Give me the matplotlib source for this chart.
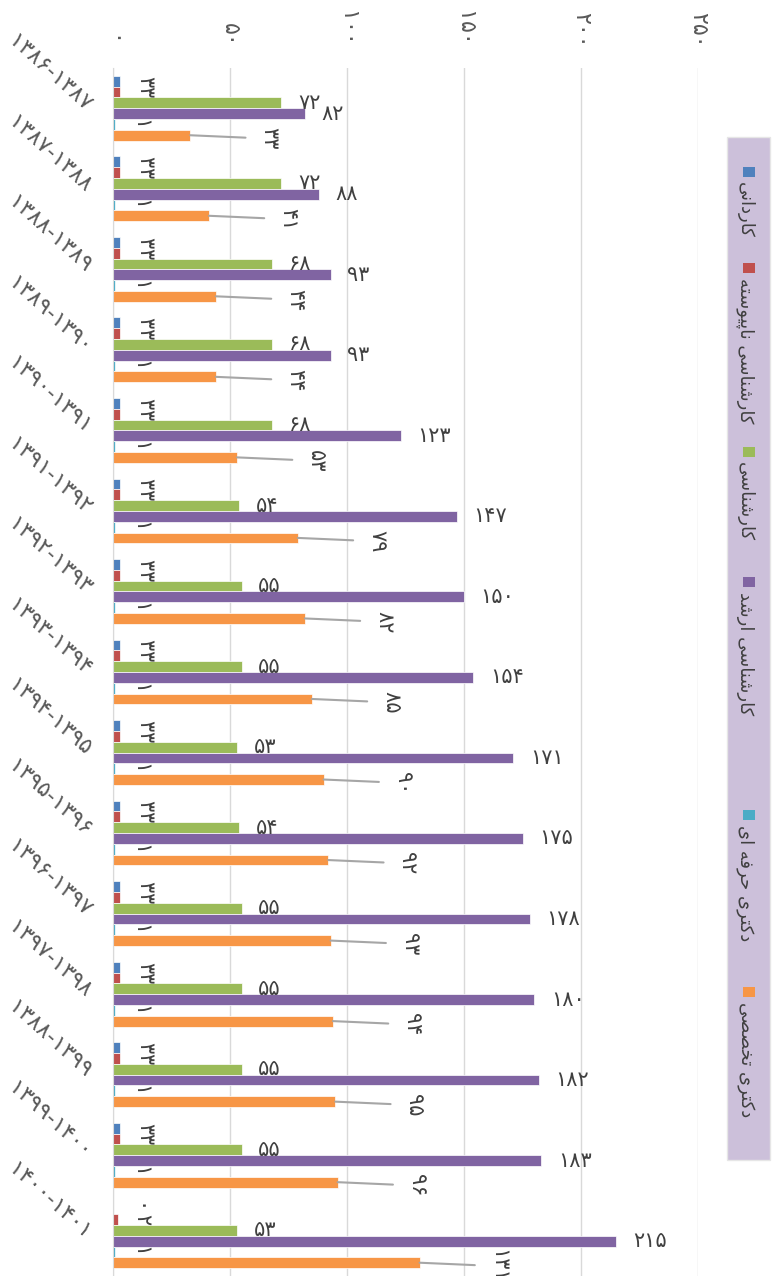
import matplotlib
matplotlib.use('Agg')
import matplotlib.pyplot as plt
from matplotlib.patches import Rectangle
import numpy as np

plt.rcParams['font.family'] = ['DejaVu Sans']

# categories (Persian years, as written on the chart)
years = ['۱۳۸۶-۱۳۸۷', '۱۳۸۷-۱۳۸۸', '۱۳۸۸-۱۳۸۹', '۱۳۸۹-۱۳۹۰', '۱۳۹۰-۱۳۹۱',
         '۱۳۹۱-۱۳۹۲', '۱۳۹۲-۱۳۹۳', '۱۳۹۳-۱۳۹۴', '۱۳۹۴-۱۳۹۵', '۱۳۹۵-۱۳۹۶',
         '۱۳۹۶-۱۳۹۷', '۱۳۹۷-۱۳۹۸', '۱۳۸۸-۱۳۹۹', '۱۳۹۹-۱۴۰۰', '۱۴۰۰-۱۴۰۱']

series_names = ['کاردانی', 'کارشناسی ناپیوسته', 'کارشناسی', 'کارشناسی ارشد',
                'دکتری حرفه ای', 'دکتری تخصصی']

kardani = [3, 3, 3, 3, 3, 3, 3, 3, 3, 3, 3, 3, 3, 3, 0]
napeyvasteh = [3, 3, 3, 3, 3, 3, 3, 3, 3, 3, 3, 3, 3, 3, 2]
karshenasi = [72, 72, 68, 68, 68, 54, 55, 55, 53, 54, 55, 55, 55, 55, 53]
arshad = [82, 88, 93, 93, 123, 147, 150, 154, 171, 175, 178, 180, 182, 183, 215]
herfei = [1, 1, 1, 1, 1, 1, 1, 1, 1, 1, 1, 1, 1, 1, 1]
takhassosi = [33, 41, 44, 44, 53, 79, 82, 85, 90, 92, 93, 94, 95, 96, 131]

colors = ['#4F81BD', '#C0504D', '#9BBB59', '#8064A2', '#4BACC6', '#F79646']

# matplotlib has no Arabic shaping, so pick the contextual forms by hand
# forms: isolated, final, initial, medial
FORMS = {
    'ا': '\ufe8d\ufe8e', 'د': '\ufea9\ufeaa', 'ر': '\ufead\ufeae', 'و': '\ufeed\ufeee',
    'ن': '\ufee5\ufee6\ufee7\ufee8', 'ش': '\ufeb5\ufeb6\ufeb7\ufeb8',
    'س': '\ufeb1\ufeb2\ufeb3\ufeb4', 'ت': '\ufe95\ufe96\ufe97\ufe98',
    'ه': '\ufee9\ufeea\ufeeb\ufeec', 'ح': '\ufea1\ufea2\ufea3\ufea4',
    'ف': '\ufed1\ufed2\ufed3\ufed4', 'خ': '\ufea5\ufea6\ufea7\ufea8',
    'ص': '\ufeb9\ufeba\ufebb\ufebc', 'ک': '\ufb8e\ufb8f\ufb90\ufb91',
    'پ': '\ufb56\ufb57\ufb58\ufb59', 'ی': '\ufbfc\ufbfd\ufbfe\ufbff',
}


def shape(text):
    out = []
    for i, ch in enumerate(text):
        f = FORMS.get(ch)
        if f is None:
            out.append(ch)
            continue
        prev = text[i - 1] if i > 0 else ''
        nxt = text[i + 1] if i + 1 < len(text) else ''
        join_prev = len(FORMS.get(prev, '')) == 4
        join_next = len(f) == 4 and nxt in FORMS
        if join_prev and join_next:
            out.append(f[3])
        elif join_prev:
            out.append(f[1])
        elif join_next:
            out.append(f[2])
        else:
            out.append(f[0])
    return ''.join(reversed(out))


to_fa = str.maketrans('0123456789', '۰۱۲۳۴۵۶۷۸۹')


def fa(n):
    return str(n).translate(to_fa)


W, H = 772, 1276
fig = plt.figure(figsize=(W / 100, H / 100), dpi=100)
ax = fig.add_axes([113 / W, 0, (698 - 113) / W, (H - 68) / H])

all_series = [kardani, napeyvasteh, karshenasi, arshad, herfei, takhassosi]
y = np.arange(len(years))
h = 0.134
txt_color = '#404040'
fs = 15

for i, (vals, c) in enumerate(zip(all_series, colors)):
    yy = y + (i - 2.5) * h
    ax.barh(yy, vals, height=h, color=c, edgecolor='white', linewidth=0.5, zorder=2)
    for v, yc in zip(vals, yy):
        if i in (0, 1, 4):
            ax.annotate(fa(v), (v, yc), xytext=(18, 0), textcoords='offset points',
                        rotation=-90, ha='center', va='center', fontsize=fs, color=txt_color)
        elif i in (2, 3):
            ax.annotate(fa(v), (v, yc), xytext=(12, 0), textcoords='offset points',
                        ha='left', va='center', fontsize=fs, color=txt_color)
        else:
            ax.annotate(fa(v), (v, yc), xytext=(57, -2.5), textcoords='offset points',
                        rotation=-90, ha='center', va='center', fontsize=fs, color=txt_color,
                        arrowprops=dict(arrowstyle='-', color='#A6A6A6', lw=1.5,
                                        shrinkA=8, shrinkB=0))

ax.set_xlim(0, 250)
ax.set_ylim(len(years) - 0.5, -0.5)
ax.xaxis.tick_top()
ax.set_xticks(range(0, 251, 50))
ax.set_xticklabels([fa(t) for t in range(0, 251, 50)], rotation=-90)
ax.tick_params(axis='x', length=0, pad=15, labelcolor='#595959', labelsize=16)
ax.set_yticks(y)
ax.set_yticklabels(years, rotation=-42, ha='right', va='center', rotation_mode='anchor')
ax.tick_params(axis='y', length=0, pad=18, labelcolor='#595959', labelsize=16)
ax.grid(axis='x', color='#D9D9D9', lw=1)
ax.set_axisbelow(True)
for s in ['top', 'right', 'bottom']:
    ax.spines[s].set_visible(False)
ax.spines['left'].set_color('#D9D9D9')

# legend: vertical box on the right, text running top to bottom
fig.patches.append(Rectangle((727 / W, 1 - 1160 / H), 43 / W, (1160 - 137) / H,
                             transform=fig.transFigure, fc='#CCC0DA', ec='#E6E6E6', lw=1))
legend_top_px = [167, 263, 447, 577, 810, 987]
for name, c, top in zip(series_names, colors, legend_top_px):
    fig.patches.append(Rectangle((743 / W, 1 - (top + 10) / H), 12 / W, 10 / H,
                                 transform=fig.transFigure, fc=c, ec='none'))
    fig.text(745 / W, 1 - (top + 15) / H, shape(name), rotation=-90, ha='center', va='top',
             fontsize=13, color=txt_color)

fig.savefig('out.png', dpi=100)
